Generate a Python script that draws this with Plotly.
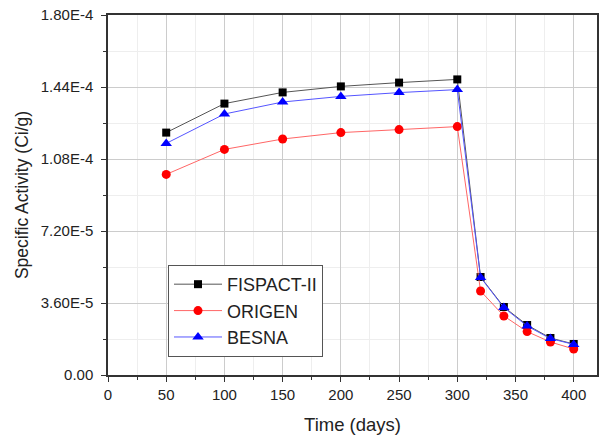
import plotly.graph_objects as go

days = [50, 100, 150, 200, 250, 300, 320, 340, 360, 380, 400]
fispact = [1.212e-4, 1.357e-4, 1.413e-4, 1.443e-4, 1.462e-4, 1.478e-4, 4.90e-5, 3.40e-5, 2.50e-5, 1.85e-5, 1.55e-5]
origen = [1.003e-4, 1.128e-4, 1.180e-4, 1.212e-4, 1.227e-4, 1.242e-4, 4.20e-5, 2.95e-5, 2.17e-5, 1.65e-5, 1.30e-5]
besna = [1.158e-4, 1.305e-4, 1.365e-4, 1.393e-4, 1.412e-4, 1.427e-4, 4.88e-5, 3.37e-5, 2.45e-5, 1.82e-5, 1.53e-5]

y_ticks = [0, 3.6e-5, 7.2e-5, 1.08e-4, 1.44e-4, 1.8e-4]
y_labels = ["0.00", "3.60E-5", "7.20E-5", "1.08E-4", "1.44E-4", "1.80E-4"]
x_ticks = [0, 50, 100, 150, 200, 250, 300, 350, 400]

FONT = "Liberation Sans, Arial"

fig = go.Figure()
fig.add_trace(go.Scatter(x=days, y=fispact, name="FISPACT-II", mode="lines+markers",
                         line=dict(color="#555555", width=1),
                         marker=dict(symbol="square", size=8, color="black")))
fig.add_trace(go.Scatter(x=days, y=origen, name="ORIGEN", mode="lines+markers",
                         line=dict(color="#ff6666", width=1),
                         marker=dict(symbol="circle", size=9, color="#ff0000")))
fig.add_trace(go.Scatter(x=days, y=besna, name="BESNA", mode="lines+markers",
                         line=dict(color="#5555ff", width=1),
                         marker=dict(symbol="triangle-up", size=10, color="#0000ff")))

axis_common = dict(showline=True, linecolor="#333333", linewidth=1.5, mirror=True,
                   ticks="outside", ticklen=5, tickcolor="#333333", automargin=False,
                   showgrid=True, gridcolor="#cccccc", gridwidth=1, zeroline=False,
                   tickfont=dict(family=FONT, size=15, color="#222222"),
                   minor=dict(ticks="outside", ticklen=3, tickcolor="#333333",
                              showgrid=True, gridcolor="#eeeeee"))

fig.update_xaxes(range=[0, 420], tickvals=x_ticks, ticklabelstandoff=0,
                 title=dict(text="Time (days)", font=dict(family=FONT, size=18.5, color="#222222"), standoff=16),
                 minor_dtick=25, **axis_common)
fig.update_yaxes(range=[0, 1.8e-4], tickvals=y_ticks, ticktext=y_labels, ticklabelstandoff=5,
                 title=dict(text="Specific Activity (Ci/g)", font=dict(family=FONT, size=17.5, color="#222222"), standoff=8),
                 minor_dtick=1.8e-5, **axis_common)

fig.update_layout(
    width=600, height=436,
    margin=dict(l=108, r=3, t=15, b=61),
    paper_bgcolor="white", plot_bgcolor="white",
    legend=dict(x=0.1227, y=0.3056, xanchor="left", yanchor="top",
                bgcolor="white", bordercolor="#555555", borderwidth=1,
                font=dict(family=FONT, size=18, color="#222222"),
                tracegroupgap=0, itemwidth=48),
    showlegend=True,
)

# remove the page body's default 8px margin so the figure fills the window
fig.write_html("out.html", config={"displayModeBar": False},
               post_script="document.body.style.margin='0px';")
